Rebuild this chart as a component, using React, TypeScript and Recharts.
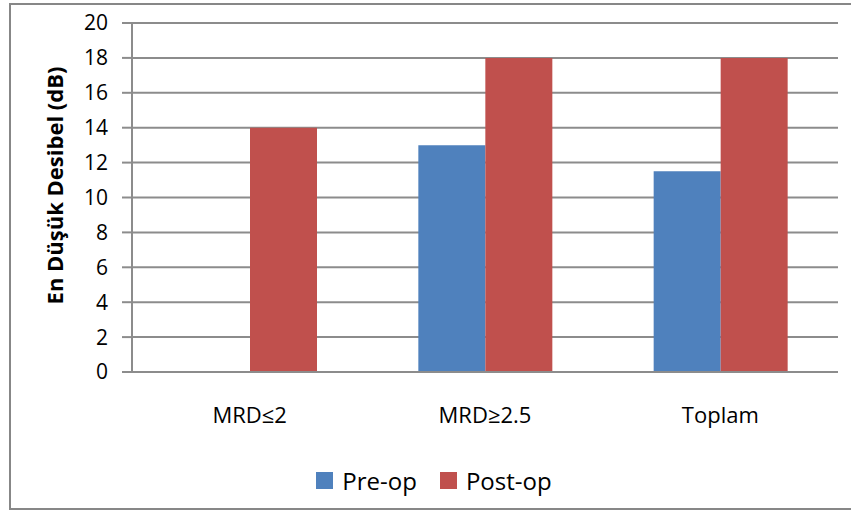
import React from 'react';
import { BarChart, Bar, XAxis, YAxis, CartesianGrid, Legend } from 'recharts';

const categories = ['MRD≤2', 'MRD≥2.5', 'Toplam'];
const preOp = [0, 13, 11.5];
const postOp = [14, 18, 18];
const yTicks = [0, 2, 4, 6, 8, 10, 12, 14, 16, 18, 20];

const series = [
    { key: 'pre', name: 'Pre-op', color: '#4F81BD' },
    { key: 'post', name: 'Post-op', color: '#C0504D' },
];

const data = categories.map((c, i) => ({ name: c, pre: preOp[i], post: postOp[i] }));

const FONT = '"Open Sans", "Noto Sans", sans-serif';
const GRID = '#8c8c8c';
const FRAME = '#878787';

const YTitle = (props: any) => {
    const vb = props.viewBox || {};
    const x = vb.x + 54;
    const y = vb.y + vb.height / 2 - 12;
    return (
        <text
            x={x}
            y={y}
            transform={`rotate(-90 ${x} ${y})`}
            textAnchor="middle"
            dominantBaseline="central"
            fontFamily={FONT}
            fontWeight={700}
            fontSize={22}
            fill="#000"
        >
            En Düşük Desibel (dB)
        </text>
    );
};

const LegendBox = () => (
    <div style={{ display: 'flex', justifyContent: 'center', alignItems: 'center', height: 40, paddingLeft: 30, fontFamily: FONT, fontSize: 24, color: '#000' }}>
        {series.map((s, i) => (
            <div key={s.key} style={{ display: 'flex', alignItems: 'center', marginLeft: i === 0 ? 0 : 23 }}>
                <span style={{ width: 17, height: 17, background: s.color, display: 'inline-block', marginRight: 9 }} />
                <span>{s.name}</span>
            </div>
        ))}
    </div>
);

const line = (left: number, top: number, width: number, height: number): React.CSSProperties => ({
    position: 'absolute', left, top, width, height, background: FRAME, zIndex: 2, pointerEvents: 'none',
});

export default function App() {
    return (
        <div style={{ position: 'fixed', left: 0, top: 0, width: 851, height: 513, background: '#fff', overflow: 'hidden' }}>
            <div style={{ position: 'absolute', left: 0, top: 0 }}>
                <BarChart
                    width={851}
                    height={513}
                    data={data}
                    margin={{ top: 23, right: 13, left: 0, bottom: 13 }}
                    barGap={0}
                >
                    <CartesianGrid vertical={false} stroke={GRID} strokeWidth={2} />
                    <XAxis
                        dataKey="name"
                        height={88}
                        tickLine={false}
                        tickSize={0}
                        tickMargin={35}
                        axisLine={{ stroke: GRID, strokeWidth: 2 }}
                        tick={{ fontFamily: FONT, fontSize: 22, fill: '#000' }}
                    />
                    <YAxis
                        width={132}
                        domain={[0, 20]}
                        ticks={yTicks}
                        interval={0}
                        tickSize={10}
                        tickMargin={14}
                        tickLine={{ stroke: GRID, strokeWidth: 2 }}
                        axisLine={{ stroke: GRID, strokeWidth: 2 }}
                        tick={{ fontFamily: FONT, fontSize: 21, fill: '#000' }}
                        label={<YTitle />}
                    />
                    <Legend verticalAlign="bottom" height={40} content={<LegendBox />} />
                    {series.map((s) => (
                        <Bar key={s.key} dataKey={s.key} name={s.name} fill={s.color} barSize={67} isAnimationActive={false} />
                    ))}
                </BarChart>
            </div>
            {/* chart frame: top, left and bottom edges */}
            <div style={line(9, 3, 842, 2)} />
            <div style={line(9, 3, 2, 507)} />
            <div style={line(9, 508, 842, 2)} />
        </div>
    );
}
